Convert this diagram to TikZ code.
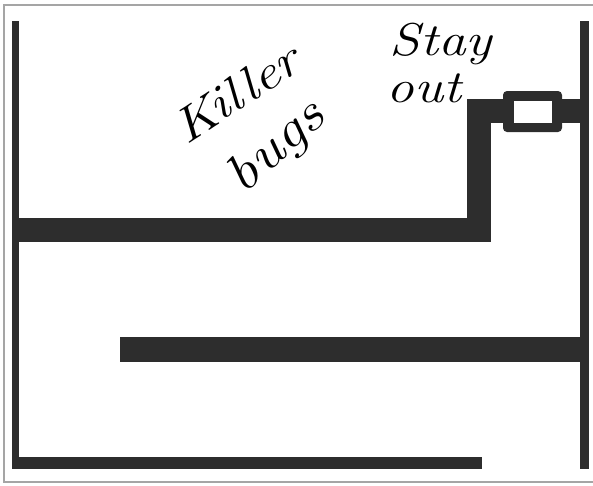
\documentclass[tikz,border=0pt]{standalone}
\usepackage{fontspec}
\usepackage{tikz}
\usetikzlibrary{positioning}
\newfontfamily\handfont{Latin Modern Roman}[FakeStretch=1.2]
\definecolor{wallGray}{RGB}{45,45,45}
\definecolor{frameGray}{RGB}{165,165,165}

\begin{document}
\begin{tikzpicture}[x=1pt, y=-1pt,
    wall/.style={fill=wallGray, draw=none},
    scrawl/.style={inner sep=0pt, text=black}]
    \useasboundingbox (0,0) rectangle (593,485);

    % Frame
    \draw[frameGray, line width=1.2pt] (4,5) rectangle (600,482);

    % Outer walls
    \fill[wall] (12,21) rectangle (19,469);
    \fill[wall] (580,21) rectangle (589,469);

    % Upper room
    \fill[wall] (12,218) rectangle (491,242);
    \fill[wall] (467,99) rectangle (491,242);
    \fill[wall] (467,99) rectangle (580,123);

    % Door
    \fill[wall, rounded corners=4pt] (503,91) rectangle (562,132);
    \fill[white] (514,101) rectangle (552,123);

    % Corridors
    \fill[wall] (120,337) rectangle (580,362);
    \fill[wall] (12,457) rectangle (482,469);

    % Labels
    \node[scrawl, rotate=33, font=\handfont\itshape\fontsize{48}{48}\selectfont] (killer) at (236,93) {Killer};
    \node[scrawl, rotate=42, font=\handfont\itshape\fontsize{52}{52}\selectfont] (bugs) at (277,148) {bugs};
    \node[scrawl, font=\handfont\itshape\fontsize{46}{46}\selectfont] (stay) at (441,44) {Stay};
    \node[scrawl, font=\handfont\itshape\fontsize{46}{46}\selectfont] (out) at (424,88) {out};
\end{tikzpicture}
\end{document}
